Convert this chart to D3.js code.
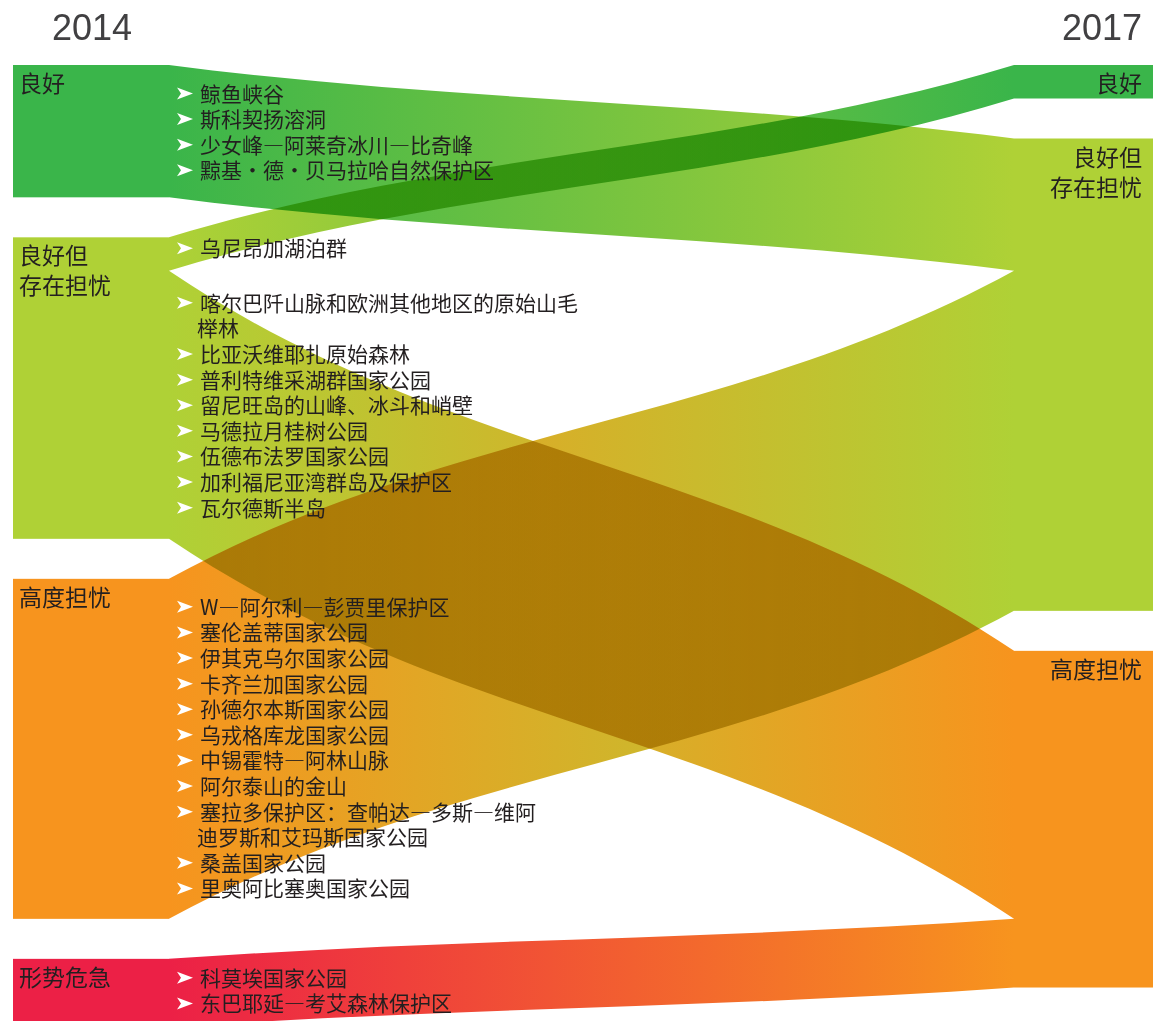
<!DOCTYPE html>
<html lang="zh">
<head>
<meta charset="utf-8">
<title>2014 – 2017</title>
<script src="https://cdn.jsdelivr.net/npm/d3@7"></script>
<style>
  html, body { margin: 0; padding: 0; background: #fff; }
  svg { display: block; }
  .year { font-family: "Liberation Sans", Arial, sans-serif; font-size: 36px; fill: #414042; }
  .node-label { font-family: "Noto Sans CJK SC", sans-serif; font-size: 23px; fill: #231f20; }
  .site { font-family: "Noto Sans CJK SC", sans-serif; font-size: 21px; fill: #231f20; }
  .link { mix-blend-mode: multiply; }
</style>
</head>
<body>
<div id="chart"></div>
<script>
// ---------- Data ----------
const YEARS = ["2014", "2017"];
const STATUS = ["良好", "良好但\n存在担忧", "高度担忧", "形势危急"];
const STATUS_COLORS = ["#3ab54a", "#afd136", "#f7941e", "#ec2046"];

// flows: status in 2014 (source) -> status in 2017 (target)
const FLOW_SOURCE = [0, 1, 1, 2, 3];
const FLOW_TARGET = [1, 0, 2, 1, 2];
const FLOW_VALUE  = [3.95, 1, 8, 10.15, 2.05];

// sites listed along each flow ("\n" = line break as in the original)
const SITES_GOOD_TO_CONCERN = ["鲸鱼峡谷", "斯科契扬溶洞", "少女峰—阿莱奇冰川—比奇峰", "黥基·德·贝马拉哈自然保护区"];
const SITES_CONCERN_TO_GOOD = ["乌尼昂加湖泊群"];
const SITES_CONCERN_TO_HIGH = [
  "喀尔巴阡山脉和欧洲其他地区的原始山毛\n榉林", "比亚沃维耶扎原始森林", "普利特维采湖群国家公园",
  "留尼旺岛的山峰、冰斗和峭壁", "马德拉月桂树公园", "伍德布法罗国家公园",
  "加利福尼亚湾群岛及保护区", "瓦尔德斯半岛"
];
const SITES_HIGH_TO_CONCERN = [
  "W—阿尔利—彭贾里保护区", "塞伦盖蒂国家公园", "伊其克乌尔国家公园", "卡齐兰加国家公园",
  "孙德尔本斯国家公园", "乌戎格库龙国家公园", "中锡霍特—阿林山脉", "阿尔泰山的金山",
  "塞拉多保护区：查帕达—多斯—维阿\n迪罗斯和艾玛斯国家公园", "桑盖国家公园", "里奥阿比塞奥国家公园"
];
const SITES_CRITICAL_TO_HIGH = ["科莫埃国家公园", "东巴耶延—考艾森林保护区"];
const FLOW_SITES = [SITES_GOOD_TO_CONCERN, SITES_CONCERN_TO_GOOD, SITES_CONCERN_TO_HIGH,
                    SITES_HIGH_TO_CONCERN, SITES_CRITICAL_TO_HIGH];

// ---------- Layout ----------
const W = 1153, H = 1021;
const TOP = 65, NODE_GAP = 40;
const COLS = [{ x0: 13, x1: 169 }, { x0: 1014, x1: 1153 }];
const LIST_OFFSET = [36.5, 19, 40, 36, 27];   // first site baseline below flow's source top
const LINE_H = 25.6;

const ky = d3.scaleLinear().domain([0, 1]).range([0, 33.5]);

const links = FLOW_VALUE.map((v, i) => ({
  id: i, value: v, s: FLOW_SOURCE[i], t: FLOW_TARGET[i], sites: FLOW_SITES[i]
}));

// nodes per column (drop empty ones)
const nodes = [];
[0, 1].forEach(col => {
  let y = TOP;
  STATUS.forEach((name, i) => {
    const value = d3.sum(links.filter(l => (col === 0 ? l.s : l.t) === i), l => l.value);
    if (!value) return;
    const n = { col, i, name, value, y0: y, y1: y + ky(value) };
    y = n.y1 + NODE_GAP;
    nodes.push(n);
  });
});

// stack links inside nodes
nodes.forEach(n => {
  let y = n.y0;
  const list = n.col === 0
    ? links.filter(l => l.s === n.i).sort((a, b) => a.t - b.t)
    : links.filter(l => l.t === n.i).sort((a, b) => a.s - b.s);
  list.forEach(l => {
    const h = ky(l.value);
    if (n.col === 0) { l.sy0 = y; l.sy1 = y + h; }
    else { l.ty0 = y; l.ty1 = y + h; }
    y += h;
  });
});

const X0 = COLS[0].x1, X1 = COLS[1].x0, DX = X1 - X0;

function ribbon(l) {
  const p = d3.path();
  let ym = (l.sy0 + l.ty0) / 2;
  p.moveTo(X0, l.sy0);
  p.bezierCurveTo(X0 + DX / 3, ym, X1 - DX / 3, ym, X1, l.ty0);
  p.lineTo(X1, l.ty1);
  ym = (l.sy1 + l.ty1) / 2;
  p.bezierCurveTo(X1 - DX / 3, ym, X0 + DX / 3, ym, X0, l.sy1);
  p.closePath();
  return p.toString();
}

// white bullet arrow (like ➤), drawn relative to its vertical centre
const arrowShape = d3.line()([[0, -6], [16, 0], [0, 6], [4, 0]]) + "Z";

// ---------- Draw ----------
const svg = d3.select("#chart").append("svg")
  .attr("width", W).attr("height", H)
  .style("background", "#fff");

const defs = svg.append("defs");
links.forEach(l => {
  const g = defs.append("linearGradient")
    .attr("id", `grad-${l.id}`)
    .attr("gradientUnits", "userSpaceOnUse")
    .attr("x1", X0).attr("x2", X1).attr("y1", 0).attr("y2", 0);
  g.append("stop").attr("offset", "0%").attr("stop-color", STATUS_COLORS[l.s]);
  g.append("stop").attr("offset", "100%").attr("stop-color", STATUS_COLORS[l.t]);
});

// flows
const linkLayer = svg.append("g").style("isolation", "isolate");
linkLayer.selectAll("path.link")
  .data(links).join("path")
    .attr("class", "link")
    .attr("d", ribbon)
    .attr("fill", l => `url(#grad-${l.id})`);

// nodes
svg.append("g").selectAll("rect")
  .data(nodes).join("rect")
    .attr("x", n => COLS[n.col].x0)
    .attr("y", n => n.y0)
    .attr("width", n => COLS[n.col].x1 - COLS[n.col].x0)
    .attr("height", n => n.y1 - n.y0)
    .attr("fill", n => STATUS_COLORS[n.i]);

// node labels
svg.append("g").selectAll("text")
  .data(nodes).join("text")
    .attr("class", "node-label")
    .attr("text-anchor", n => n.col === 0 ? "start" : "end")
    .attr("y", n => n.y0 + 27)
    .each(function (n) {
      const x = n.col === 0 ? 19 : 1142;
      n.name.split("\n").forEach((line, k) => {
        d3.select(this).append("tspan")
          .attr("x", x).attr("dy", k ? 30 : 0).text(line);
      });
    });

// year labels
svg.append("text").attr("class", "year")
  .attr("x", (COLS[0].x0 + COLS[0].x1) / 2 + 1).attr("y", 40)
  .attr("text-anchor", "middle").text(YEARS[0]);
svg.append("text").attr("class", "year")
  .attr("x", 1142).attr("y", 40)
  .attr("text-anchor", "end").text(YEARS[1]);

// site lists along flows
links.forEach(l => {
  const g = svg.append("g");
  let row = 0;
  const y0 = l.sy0 + LIST_OFFSET[l.id];
  l.sites.forEach(name => {
    name.split("\n").forEach((line, k) => {
      const y = y0 + row * LINE_H;
      if (k === 0) {
        g.append("path")
          .attr("d", arrowShape)
          .attr("transform", `translate(177,${y - 8})`)
          .attr("fill", "#fff");
      }
      g.append("text").attr("class", "site")
        .attr("x", k === 0 ? 200 : 197).attr("y", y).text(line);
      row++;
    });
  });
});
</script>
</body>
</html>
